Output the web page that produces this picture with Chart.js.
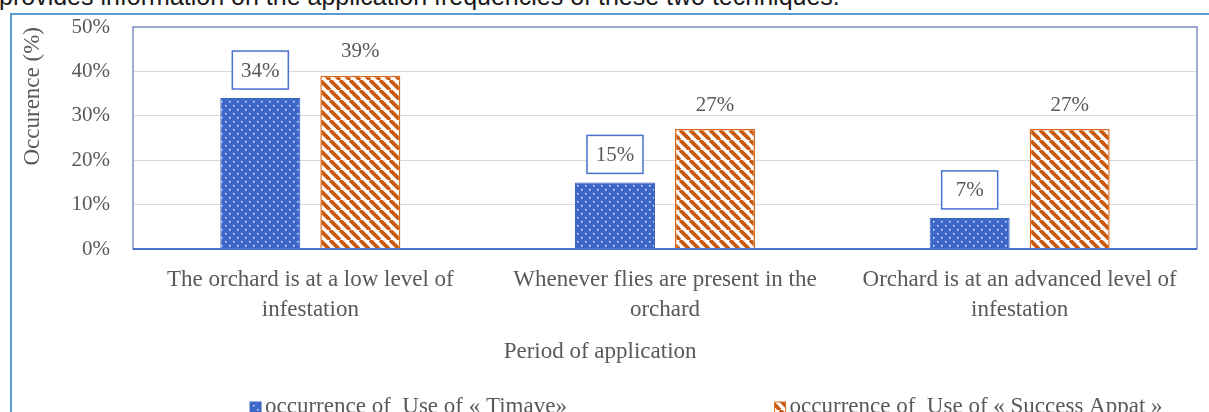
<!DOCTYPE html>
<html>
<head>
<meta charset="utf-8">
<script src="https://cdn.jsdelivr.net/npm/chart.js@4.4.1/dist/chart.umd.min.js"></script>
<style>
  html, body { margin: 0; padding: 0; background: #fff; overflow: hidden; }
  #page { position: relative; width: 1209px; height: 412px; overflow: hidden; }
  #intro { position: absolute; left: -1px; top: -16px; font: 25px/25px "Liberation Sans", Arial, sans-serif; color: #1a1a1a; white-space: nowrap; }
  #frame { position: absolute; left: 10px; top: 13px; width: 1300px; height: 500px; border-top: 2px solid #5b9bd5; border-left: 2px solid #5b9bd5; }
  #wrap { position: absolute; left: 0; top: 0; width: 1209px; height: 412px; }
</style>
</head>
<body>
<div id="page">
  <div id="intro">provides information on the application frequencies of these two techniques.</div>
  <div id="frame"></div>
  <div id="wrap"><canvas id="myChart"></canvas></div>
</div>
<script>
const categories = [
    ["The orchard is at a low level of", "infestation"],
    ["Whenever flies are present in the", "orchard"],
    ["Orchard is at an advanced level of", "infestation"]
];
const timave = [34, 15, 7];
const successAppat = [39, 27, 27];
const seriesNames = ["occurrence of  Use of « Timave»", "occurrence of  Use of « Success Appat »"];
const yTicks = [0, 10, 20, 30, 40, 50];
const yTitle = "Occurence (%)";
const xTitle = "Period of application";

const grey = '#595959';
const serif = '"Liberation Serif", "Times New Roman", serif';

// dotted blue fill
function dotPattern(){
    let c = document.createElement('canvas');
    c.width = 8; c.height = 8;
    let g = c.getContext('2d');
    g.fillStyle = '#3d67c9';
    g.fillRect(0, 0, 8, 8);
    g.fillStyle = 'rgba(255,255,255,0.9)';
    g.fillRect(1, 1, 1.5, 1.5);
    g.fillRect(5, 5, 1.5, 1.5);
    return g.createPattern(c, 'repeat');
}

// wide downward diagonal stripes
function stripePattern(){
    let p = 10;
    let c = document.createElement('canvas');
    c.width = p; c.height = p;
    let g = c.getContext('2d');
    g.fillStyle = '#ffffff';
    g.fillRect(0, 0, p, p);
    g.strokeStyle = '#c9590f';
    g.lineWidth = 3.8;
    for (let k = -1; k <= 1; k++) {
        g.beginPath();
        g.moveTo(k * p, 0);
        g.lineTo(k * p + p, p);
        g.stroke();
    }
    return g.createPattern(c, 'repeat');
}

const ctx = document.getElementById('myChart').getContext('2d');
const blueFill = dotPattern();
const orangeFill = stripePattern();

const frameAndLabels = {
    id: 'frameAndLabels',
    afterDatasetsDraw(chart){
        const c = chart.ctx;
        const a = chart.chartArea;
        c.save();
        // plot frame
        c.strokeStyle = '#8090c8';
        c.lineWidth = 1.5;
        c.strokeRect(a.left, a.top, a.right - a.left, a.bottom - a.top);
        c.strokeStyle = '#4a70d0';
        c.lineWidth = 2;
        c.beginPath();
        c.moveTo(a.left, a.bottom);
        c.lineTo(a.right, a.bottom);
        c.stroke();

        // value labels
        c.font = '21px ' + serif;
        c.textAlign = 'center';
        c.textBaseline = 'middle';
        chart.data.datasets.forEach((ds, di) => {
            chart.getDatasetMeta(di).data.forEach((bar, i) => {
                let txt = ds.data[i] + '%';
                if (di === 0) {
                    let w = 56, h = 38;
                    let cy = bar.y - 9 - h / 2;
                    c.fillStyle = '#fff';
                    c.fillRect(bar.x - w / 2, cy - h / 2, w, h);
                    c.strokeStyle = '#4a70d0';
                    c.lineWidth = 1.5;
                    c.strokeRect(bar.x - w / 2, cy - h / 2, w, h);
                    c.fillStyle = grey;
                    c.fillText(txt, bar.x, cy + 1);
                } else {
                    c.fillStyle = grey;
                    c.fillText(txt, bar.x, bar.y - 24);
                }
            });
        });
        c.restore();
    },
    afterDraw(chart){
        const c = chart.ctx;
        const a = chart.chartArea;
        const w = a.right - a.left;
        c.save();
        c.font = '23px ' + serif;
        c.fillStyle = grey;
        c.textAlign = 'center';
        c.textBaseline = 'middle';
        c.fillText(xTitle, a.left + w * 0.439, a.bottom + 103);

        // legend
        const starts = [0.110, 0.603];
        c.textAlign = 'left';
        c.textBaseline = 'alphabetic';
        chart.data.datasets.forEach((ds, di) => {
            let x = a.left + w * starts[di];
            let y = a.bottom + 153;
            c.fillStyle = ds.backgroundColor;
            c.fillRect(x, y, 11, 11);
            c.strokeStyle = ds.borderColor;
            c.lineWidth = 1;
            c.strokeRect(x, y, 11, 11);
            c.fillStyle = grey;
            c.fillText(ds.label, x + 15, a.bottom + 164);
        });
        c.restore();
    }
};

const myChart = new Chart(ctx, {
    type: 'bar',
    data: {
        labels: categories,
        datasets: [{
            label: seriesNames[0],
            data: timave,
            backgroundColor: blueFill,
            borderColor: '#3a62c0',
            borderWidth: 1,
            categoryPercentage: 0.564,
            barPercentage: 0.8
        }, {
            label: seriesNames[1],
            data: successAppat,
            backgroundColor: orangeFill,
            borderColor: '#dc6a1c',
            borderWidth: 1.5,
            categoryPercentage: 0.564,
            barPercentage: 0.8
        }]
    },
    options: {
        responsive: true,
        maintainAspectRatio: false,
        animation: false,
        layout: {
            padding: { top: 27, right: 12, bottom: 87, left: 0 }
        },
        scales: {
            x: {
                afterFit(scale){
                    scale.height = 76;
                    scale.paddingLeft = 0;
                    scale.paddingRight = 0;
                },
                grid: { display: false, drawTicks: false },
                border: { display: false },
                ticks: {
                    color: grey,
                    padding: 16,
                    maxRotation: 0,
                    font: { family: serif, size: 23, lineHeight: 1.3 }
                }
            },
            y: {
                min: 0,
                max: 50,
                afterFit(scale){
                    scale.width = 133;
                    scale.paddingTop = 0;
                    scale.paddingBottom = 0;
                },
                afterBuildTicks(scale){ scale.ticks = yTicks.map(v => ({ value: v })); },
                grid: { color: '#d9d9d9', lineWidth: 1, drawTicks: false },
                border: { display: false },
                ticks: {
                    color: grey,
                    padding: 23,
                    font: { family: serif, size: 21 },
                    callback: v => v + '%'
                },
                title: {
                    display: true,
                    text: yTitle,
                    align: 'end',
                    color: grey,
                    font: { family: serif, size: 23 },
                    padding: { top: 19, bottom: 0 }
                }
            }
        },
        plugins: {
            legend: { display: false },
            tooltip: { enabled: false }
        }
    },
    plugins: [frameAndLabels]
});
</script>
</body>
</html>
